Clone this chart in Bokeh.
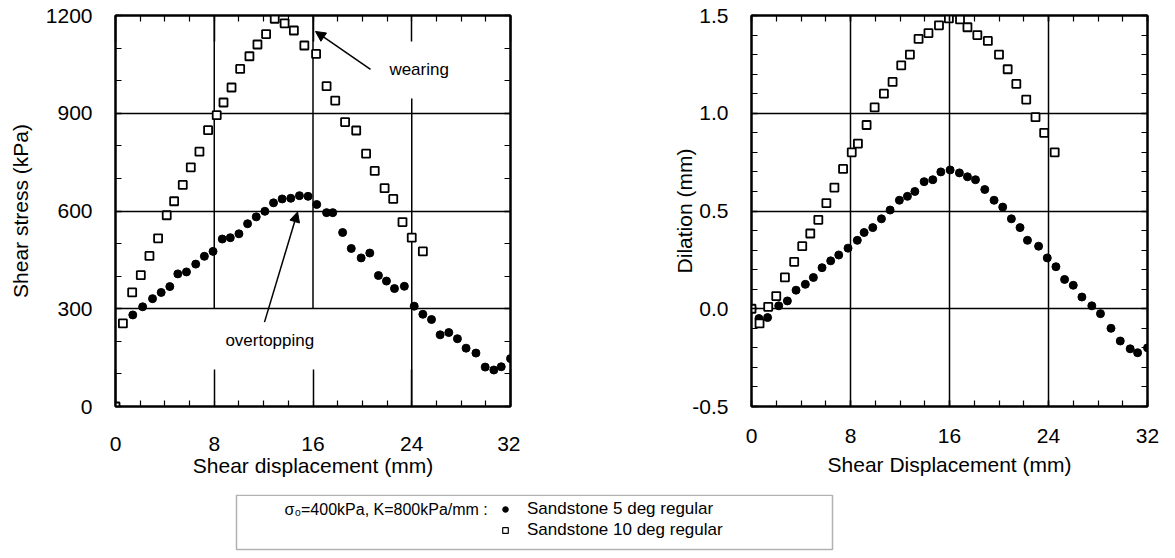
from bokeh.plotting import figure
from bokeh.models import (Range1d, SingleIntervalTicker, LinearAxis, Arrow, NormalHead,
                          Label, Legend, LegendItem, BoxAnnotation, NumeralTickFormatter)
from bokeh.layouts import column, row
from bokeh.embed import file_html
from bokeh.resources import INLINE

# ---------------- data ----------------
# Shear stress (kPa) vs shear displacement (mm)
stress_5deg_x = [1.4, 2.2, 3.0, 3.7, 4.4, 5.05, 5.75, 6.5, 7.2, 7.9, 8.65, 9.3, 10.0, 10.7, 11.4,
                 12.1, 12.8, 13.5, 14.2, 14.9, 15.6, 16.3, 17.1, 17.6, 18.4, 19.1, 19.9, 20.6,
                 21.3, 21.95, 22.6, 23.4, 24.2, 24.9, 25.6, 26.3, 27.0, 27.7, 28.4, 29.2, 29.95,
                 30.65, 31.25, 32.0]
stress_5deg_y = [281, 306, 331, 350, 368, 407, 413, 437, 461, 476, 514, 518, 530, 561, 582,
                 599, 625, 637, 639, 647, 645, 620, 595, 595, 534, 485, 456, 471,
                 402, 385, 362, 369, 308, 283, 267, 220, 227, 208, 179, 164, 121,
                 112, 122, 147]
stress_10deg_x = [0.0, 0.6, 1.35, 2.05, 2.75, 3.45, 4.15, 4.75, 5.45, 6.1, 6.8, 7.5, 8.2, 8.75,
                  9.4, 10.1, 10.85, 11.5, 12.2, 12.9, 13.7, 14.45, 15.3, 16.25, 17.1, 17.8,
                  18.6, 19.5, 20.3, 21.0, 21.8, 22.5, 23.25, 24.0, 24.9]
stress_10deg_y = [0, 255, 350, 403, 462, 516, 587, 630, 680, 734, 782, 848, 894, 933,
                  979, 1036, 1075, 1111, 1143, 1190, 1176, 1154, 1108, 1082, 983, 939,
                  873, 847, 776, 723, 670, 637, 566, 518, 476]

# Dilation (mm) vs shear displacement (mm)
dil_5deg_x = [0.6, 1.3, 2.2, 2.9, 3.6, 4.35, 5.0, 5.7, 6.4, 7.05, 7.8, 8.55, 9.1, 9.8, 10.5,
              11.2, 11.95, 12.6, 13.2, 13.95, 14.65, 15.3, 16.05, 16.8, 17.45, 18.1, 18.85,
              19.6, 20.3, 21.0, 21.7, 22.3, 23.2, 23.9, 24.6, 25.3, 26.0, 26.7, 27.5, 28.2,
              29.05, 29.8, 30.6, 31.2, 32.0]
dil_5deg_y = [-0.05, -0.045, 0.015, 0.04, 0.095, 0.125, 0.16, 0.21, 0.245, 0.275, 0.31, 0.35,
              0.39, 0.415, 0.46, 0.505, 0.555, 0.575, 0.60, 0.65, 0.66, 0.70, 0.71, 0.695,
              0.675, 0.66, 0.61, 0.555, 0.52, 0.46, 0.415, 0.35, 0.32, 0.26, 0.215, 0.15,
              0.12, 0.06, 0.015, -0.025, -0.10, -0.165, -0.205, -0.225, -0.20]
dil_10deg_x = [0.0, 0.65, 1.35, 2.0, 2.7, 3.45, 4.1, 4.75, 5.4, 6.05, 6.7, 7.4, 8.1, 8.6, 9.3,
               9.95, 10.7, 11.4, 12.1, 12.8, 13.5, 14.3, 15.15, 15.95, 16.85, 17.45, 18.25,
               19.1, 20.0, 20.7, 21.4, 22.2, 22.95, 23.65, 24.5]
dil_10deg_y = [0.0, -0.075, 0.01, 0.065, 0.16, 0.24, 0.32, 0.385, 0.455, 0.54, 0.62, 0.715,
               0.80, 0.845, 0.94, 1.03, 1.10, 1.16, 1.245, 1.30, 1.38, 1.41, 1.45, 1.485,
               1.48, 1.44, 1.40, 1.37, 1.30, 1.225, 1.15, 1.07, 0.98, 0.90, 0.80]

series_names = ["Sandstone 5 deg regular", "Sandstone 10 deg regular"]
legend_prefix = "\u03c3\u2080=400kPa, K=800kPa/mm :"

# ---------------- styling ----------------
FONT = "Liberation Sans"
TICK_FS = "21px"
LABEL_FS = "21px"
ANN_FS = "17px"
LEG_FS = "17px"
ROW_H = 494
TOP = 15
FRAME_H = 391


def style_axis(ax, major_in=6, minor_in=6, labels=True, standoff=23, label_standoff=6):
    ax.axis_line_color = "black"
    ax.axis_line_width = 2
    ax.major_tick_in = major_in
    ax.major_tick_out = 0
    ax.minor_tick_in = minor_in
    ax.minor_tick_out = 0
    ax.major_tick_line_color = "black"
    ax.major_tick_line_width = 1.5
    ax.minor_tick_line_color = "black"
    ax.minor_tick_line_width = 1.2
    if labels:
        ax.major_label_text_font = FONT
        ax.major_label_text_font_size = TICK_FS
        ax.major_label_text_color = "black"
        ax.major_label_standoff = standoff
        ax.axis_label_text_font = FONT
        ax.axis_label_text_font_size = LABEL_FS
        ax.axis_label_text_font_style = "normal"
        ax.axis_label_text_color = "black"
        ax.axis_label_standoff = label_standoff
    else:
        ax.major_label_text_font_size = "0px"
        ax.major_label_text_color = None
        ax.major_label_standoff = 0
        ax.axis_label = None


def mirror_axes(p, xticker, yticker, top_major_in=6):
    top = LinearAxis(ticker=xticker)
    style_axis(top, major_in=top_major_in, labels=False)
    p.add_layout(top, "above")
    right = LinearAxis(ticker=yticker)
    style_axis(right, labels=False)
    p.add_layout(right, "right")


def add_points(p, x5, y5, x10, y10):
    p.scatter(x5, y5, marker="circle", size=8, fill_color="black", line_color="black")
    p.scatter(x10, y10, marker="square", size=8, fill_color="white",
              line_color="black", line_width=1.8)


# ---------------- left panel: shear stress ----------------
p1 = figure(width=520, height=ROW_H, x_range=Range1d(0, 32), y_range=Range1d(0, 1200),
            output_backend="svg", toolbar_location=None,
            min_border_left=115, min_border_right=10, min_border_top=TOP,
            min_border_bottom=ROW_H - TOP - FRAME_H)
p1.outline_line_color = "black"
p1.outline_line_width = 2
xt1 = SingleIntervalTicker(interval=8, num_minor_ticks=4)
yt1 = SingleIntervalTicker(interval=300, num_minor_ticks=3)
p1.xaxis.ticker = xt1
p1.yaxis.ticker = yt1
p1.xaxis.axis_label = "Shear displacement (mm)"
p1.yaxis.axis_label = "Shear stress (kPa)"
style_axis(p1.xaxis[0], major_in=37, standoff=30, label_standoff=0)
style_axis(p1.yaxis[0], standoff=23, label_standoff=11)
mirror_axes(p1, xt1, yt1, top_major_in=26)
p1.xgrid.visible = False
p1.ygrid.grid_line_color = "black"
p1.ygrid.grid_line_width = 1.5
p1.ygrid.grid_line_alpha = 1
# vertical grid lines are interrupted in the original (as scanned)
vgrid_x = [8, 16, 24]
vgrid_lo = [300, 300, 0]
vgrid_hi = [1200, 1200, 945]
p1.segment(x0=vgrid_x, y0=vgrid_lo, x1=vgrid_x, y1=vgrid_hi, line_color="black", line_width=1.5)
add_points(p1, stress_5deg_x, stress_5deg_y, stress_10deg_x, stress_10deg_y)

p1.add_layout(Arrow(end=NormalHead(size=10, fill_color="black", line_color="black"),
                    x_start=20.66, y_start=1035, x_end=16.2, y_end=1151,
                    line_color="black", line_width=1.5))
p1.add_layout(Arrow(end=NormalHead(size=10, fill_color="black", line_color="black"),
                    x_start=12.07, y_start=259, x_end=14.75, y_end=597,
                    line_color="black", line_width=1.5))
p1.add_layout(Label(x=24.6, y=1035, text="wearing", text_align="center", text_baseline="middle",
                    text_font=FONT, text_font_size=ANN_FS, text_color="black"))
p1.add_layout(Label(x=12.5, y=204, text="overtopping", text_align="center", text_baseline="middle",
                    text_font=FONT, text_font_size=ANN_FS, text_color="black"))

# ---------------- right panel: dilation ----------------
p2 = figure(width=647, height=ROW_H, x_range=Range1d(0, 32), y_range=Range1d(-0.5, 1.5),
            output_backend="svg", toolbar_location=None,
            min_border_left=231, min_border_right=20, min_border_top=TOP,
            min_border_bottom=ROW_H - TOP - FRAME_H)
p2.outline_line_color = "black"
p2.outline_line_width = 2
xt2 = SingleIntervalTicker(interval=8, num_minor_ticks=4)
yt2 = SingleIntervalTicker(interval=0.5, num_minor_ticks=5)
p2.xaxis.ticker = xt2
p2.yaxis.ticker = yt2
p2.yaxis.formatter = NumeralTickFormatter(format="0.0")
p2.xaxis.axis_label = "Shear Displacement (mm)"
p2.yaxis.axis_label = "Dilation (mm)"
style_axis(p2.xaxis[0], standoff=22, label_standoff=7)
style_axis(p2.yaxis[0], standoff=23, label_standoff=-7)
mirror_axes(p2, xt2, yt2)
for g in (p2.xgrid, p2.ygrid):
    g.grid_line_color = "black"
    g.grid_line_width = 1.5
    g.grid_line_alpha = 1
add_points(p2, dil_5deg_x, dil_5deg_y, dil_10deg_x, dil_10deg_y)

# ---------------- legend strip ----------------
LEG_H = 58
p3 = figure(width=1167, height=LEG_H, x_range=Range1d(0, 1167), y_range=Range1d(0, LEG_H),
            x_axis_type=None, y_axis_type=None, output_backend="svg", toolbar_location=None,
            min_border=0)
p3.outline_line_color = None
p3.add_layout(BoxAnnotation(left=236, right=832, bottom=3, top=LEG_H - 0.8, fill_color=None,
                            fill_alpha=0, line_color="black", line_width=1.5))
p3.add_layout(Label(x=284, y=LEG_H - 15, text=legend_prefix, text_baseline="middle",
                    text_font=FONT, text_font_size="16px", text_color="black"))
# hidden renderers carrying the series, used only for the legend glyphs
r5 = p3.scatter(stress_5deg_x, stress_5deg_y, marker="circle", fill_color="black",
                line_color="black", visible=False)
r10 = p3.scatter(stress_10deg_x, stress_10deg_y, marker="square", fill_color="white",
                 line_color="black", line_width=1.2, visible=False)
legend = Legend(items=[LegendItem(label=series_names[0], renderers=[r5]),
                       LegendItem(label=series_names[1], renderers=[r10])],
                location=(498, 12), padding=0, margin=0, spacing=1,
                glyph_width=14, glyph_height=14, label_height=20, label_standoff=15,
                border_line_color=None, background_fill_alpha=0, inactive_fill_alpha=0,
                label_text_font=FONT, label_text_font_size=LEG_FS, label_text_color="black")
p3.add_layout(legend)

layout = column(row(p1, p2), p3)
open("out.html", "w").write(file_html(layout, INLINE))
